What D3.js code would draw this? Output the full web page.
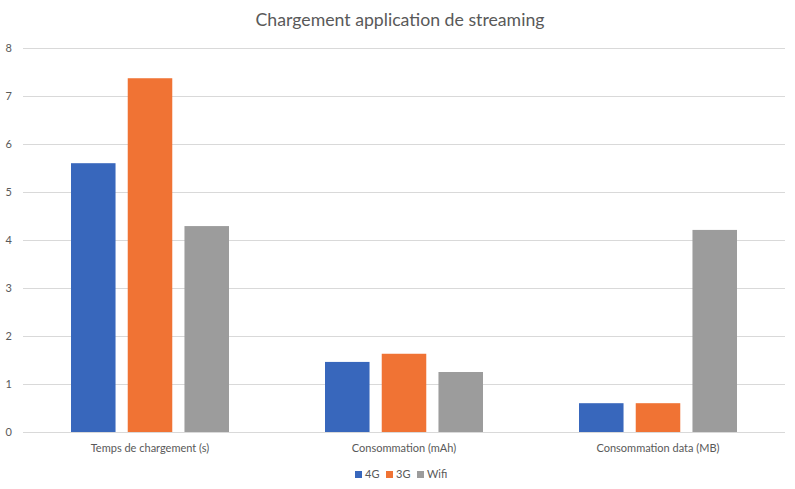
<!DOCTYPE html>
<html><head><meta charset="utf-8">
<script src="https://cdn.jsdelivr.net/npm/d3@7"></script>
<style>body{margin:0;background:#fff;} text{font-family:Lato,"Liberation Sans",sans-serif;}</style>
</head><body>
<svg id="c" width="795" height="489"></svg>
<script>
const categories = ["Temps de chargement (s)", "Consommation (mAh)", "Consommation data (MB)"];
const seriesNames = ["4G", "3G", "Wifi"];
const values4G = [5.6, 1.46, 0.6];
const values3G = [7.37, 1.63, 0.6];
const valuesWifi = [4.29, 1.25, 4.21];
const yTicks = [0, 1, 2, 3, 4, 5, 6, 7, 8];
const colors = ["#3867bc", "#f07334", "#9c9c9c"];
const title = "Chargement application de streaming";

(function () {
const seriesValues = [values4G, values3G, valuesWifi];
const svg = d3.select("#c");
const mLeft = 23, mRight = 785, mTop = 48, mBottom = 432;

const x0 = d3.scaleBand().domain(categories).range([mLeft, mRight]);
const x1 = d3.scaleBand().domain(seriesNames).range([48, x0.bandwidth() - 48]).paddingInner(0.215);
const y = d3.scaleLinear().domain([0, 8]).range([mBottom, mTop]);

svg.append("g").selectAll("line").data(yTicks.slice(1)).join("line")
  .attr("x1", mLeft).attr("x2", mRight)
  .attr("y1", d => y(d) + 0.5).attr("y2", d => y(d) + 0.5)
  .attr("stroke", "#d9d9d9").attr("stroke-width", 1);

svg.append("g").selectAll("text").data(yTicks).join("text")
  .attr("x", 12).attr("y", d => y(d)).attr("dy", "0.35em")
  .attr("text-anchor", "end").attr("font-size", 11).attr("fill", "#595959")
  .text(d => d);

const groups = svg.append("g").selectAll("g").data(categories).join("g")
  .attr("transform", c => `translate(${x0(c)},0)`);
groups.selectAll("rect").data((c, i) => seriesNames.map((s, j) => ({s, v: seriesValues[j][i], j})))
  .join("rect")
  .attr("x", d => x1(d.s)).attr("width", x1.bandwidth())
  .attr("y", d => y(d.v)).attr("height", d => y(0) - y(d.v))
  .attr("fill", d => colors[d.j]);

svg.append("line").attr("x1", mLeft).attr("x2", mRight)
  .attr("y1", mBottom + 0.5).attr("y2", mBottom + 0.5)
  .attr("stroke", "#d9d9d9").attr("stroke-width", 1);

svg.append("g").selectAll("text").data(categories).join("text")
  .attr("x", c => x0(c) + x0.bandwidth() / 2).attr("y", 452)
  .attr("text-anchor", "middle").attr("font-size", 11).attr("fill", "#595959")
  .text(c => c);

svg.append("text").attr("x", 400).attr("y", 26).attr("text-anchor", "middle")
  .attr("font-size", 17.7).attr("fill", "#595959").text(title);

const legendX = [355, 386, 417];
const lg = svg.append("g").selectAll("g").data(seriesNames).join("g")
  .attr("transform", (d, i) => `translate(${legendX[i]},471)`);
lg.append("rect").attr("width", 7).attr("height", 7).attr("fill", (d, i) => colors[i]);
lg.append("text").attr("x", 10).attr("y", 3.5).attr("dy", "0.35em")
  .attr("font-size", 11).attr("fill", "#595959").text(d => d);
})();
</script>
</body></html>
